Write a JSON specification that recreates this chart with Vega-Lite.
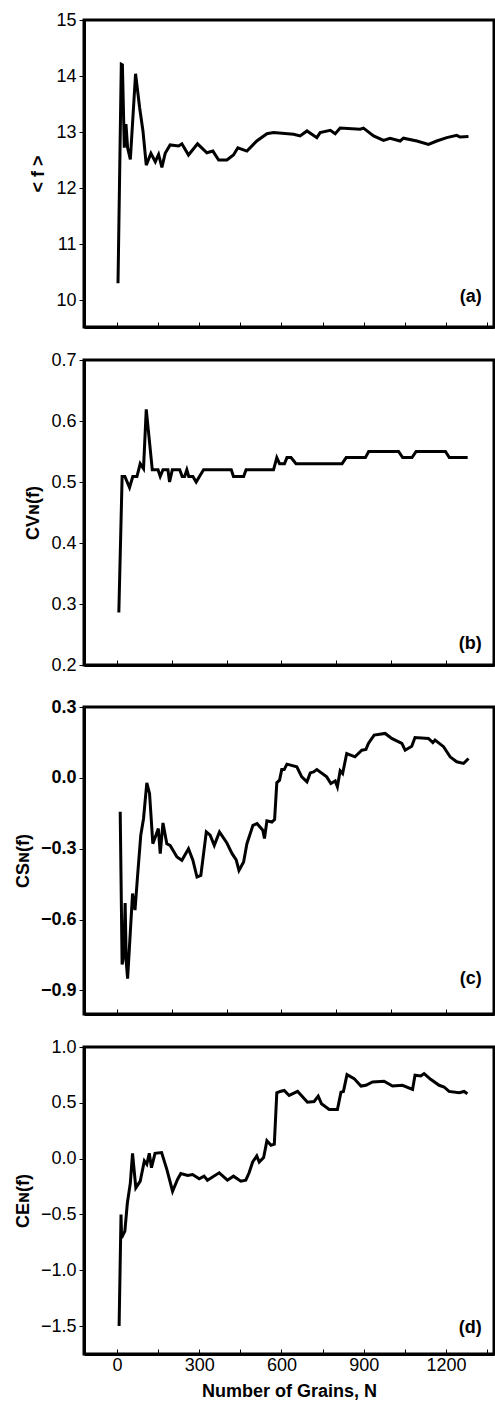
{
  "$schema": "https://vega.github.io/schema/vega-lite/v6.json",
  "padding": {"left": 12, "top": 9, "right": 2, "bottom": 0},
  "spacing": 20,
  "datasets": {
    "a": [
      {"N":4,"v":10.3},{"N":16,"v":14.21},{"N":20,"v":14.2},{"N":27,"v":12.72},{"N":33,"v":13.14},{"N":39,"v":12.72},{"N":49,"v":12.51},{"N":68,"v":14.04},{"N":83,"v":13.43},{"N":95,"v":13.02},{"N":107,"v":12.41},{"N":124,"v":12.62},{"N":140,"v":12.47},{"N":152,"v":12.6},{"N":164,"v":12.37},{"N":176,"v":12.62},{"N":194,"v":12.77},{"N":225,"v":12.75},{"N":237,"v":12.79},{"N":261,"v":12.59},{"N":294,"v":12.79},{"N":328,"v":12.63},{"N":350,"v":12.66},{"N":371,"v":12.5},{"N":401,"v":12.5},{"N":425,"v":12.59},{"N":441,"v":12.72},{"N":474,"v":12.66},{"N":510,"v":12.84},{"N":547,"v":12.97},{"N":571,"v":12.99},{"N":644,"v":12.96},{"N":668,"v":12.93},{"N":693,"v":13.02},{"N":729,"v":12.9},{"N":741,"v":12.99},{"N":778,"v":13.03},{"N":796,"v":12.97},{"N":814,"v":13.07},{"N":887,"v":13.05},{"N":899,"v":13.07},{"N":936,"v":12.93},{"N":972,"v":12.85},{"N":996,"v":12.89},{"N":1033,"v":12.84},{"N":1045,"v":12.89},{"N":1094,"v":12.84},{"N":1136,"v":12.78},{"N":1166,"v":12.84},{"N":1203,"v":12.9},{"N":1239,"v":12.94},{"N":1251,"v":12.91},{"N":1282,"v":12.92}
    ],
    "b": [
      {"N":7,"v":0.286},{"N":19,"v":0.509},{"N":29,"v":0.509},{"N":46,"v":0.491},{"N":58,"v":0.509},{"N":73,"v":0.509},{"N":85,"v":0.53},{"N":97,"v":0.522},{"N":107,"v":0.619},{"N":129,"v":0.52},{"N":150,"v":0.52},{"N":158,"v":0.509},{"N":168,"v":0.52},{"N":186,"v":0.52},{"N":192,"v":0.5},{"N":202,"v":0.52},{"N":229,"v":0.52},{"N":238,"v":0.509},{"N":247,"v":0.509},{"N":255,"v":0.52},{"N":262,"v":0.509},{"N":277,"v":0.509},{"N":289,"v":0.5},{"N":301,"v":0.509},{"N":316,"v":0.52},{"N":417,"v":0.52},{"N":425,"v":0.509},{"N":462,"v":0.509},{"N":471,"v":0.52},{"N":571,"v":0.52},{"N":583,"v":0.54},{"N":593,"v":0.53},{"N":611,"v":0.53},{"N":620,"v":0.54},{"N":635,"v":0.54},{"N":653,"v":0.53},{"N":821,"v":0.53},{"N":836,"v":0.54},{"N":906,"v":0.54},{"N":918,"v":0.55},{"N":1027,"v":0.55},{"N":1042,"v":0.54},{"N":1076,"v":0.54},{"N":1091,"v":0.55},{"N":1198,"v":0.55},{"N":1212,"v":0.54},{"N":1279,"v":0.54}
    ],
    "c": [
      {"N":12,"v":-0.144},{"N":19,"v":-0.79},{"N":25,"v":-0.75},{"N":30,"v":-0.53},{"N":34,"v":-0.78},{"N":39,"v":-0.85},{"N":57,"v":-0.49},{"N":66,"v":-0.56},{"N":75,"v":-0.42},{"N":87,"v":-0.243},{"N":97,"v":-0.173},{"N":109,"v":-0.021},{"N":119,"v":-0.066},{"N":131,"v":-0.279},{"N":151,"v":-0.215},{"N":158,"v":-0.321},{"N":168,"v":-0.191},{"N":182,"v":-0.279},{"N":194,"v":-0.286},{"N":219,"v":-0.335},{"N":237,"v":-0.349},{"N":261,"v":-0.3},{"N":277,"v":-0.349},{"N":292,"v":-0.42},{"N":306,"v":-0.413},{"N":326,"v":-0.229},{"N":340,"v":-0.243},{"N":355,"v":-0.286},{"N":374,"v":-0.229},{"N":401,"v":-0.276},{"N":420,"v":-0.321},{"N":435,"v":-0.347},{"N":445,"v":-0.392},{"N":462,"v":-0.356},{"N":474,"v":-0.279},{"N":496,"v":-0.201},{"N":511,"v":-0.194},{"N":532,"v":-0.222},{"N":538,"v":-0.257},{"N":547,"v":-0.182},{"N":565,"v":-0.187},{"N":575,"v":-0.177},{"N":583,"v":-0.021},{"N":593,"v":-0.01},{"N":601,"v":0.035},{"N":610,"v":0.035},{"N":620,"v":0.058},{"N":656,"v":0.047},{"N":674,"v":0.004},{"N":693,"v":-0.017},{"N":705,"v":0.021},{"N":717,"v":0.025},{"N":729,"v":0.035},{"N":765,"v":0.004},{"N":780,"v":-0.024},{"N":796,"v":-0.013},{"N":804,"v":-0.038},{"N":814,"v":0.03},{"N":823,"v":0.018},{"N":838,"v":0.103},{"N":868,"v":0.089},{"N":893,"v":0.117},{"N":908,"v":0.12},{"N":917,"v":0.146},{"N":938,"v":0.181},{"N":978,"v":0.188},{"N":1002,"v":0.167},{"N":1039,"v":0.146},{"N":1051,"v":0.117},{"N":1075,"v":0.134},{"N":1087,"v":0.171},{"N":1136,"v":0.167},{"N":1152,"v":0.149},{"N":1160,"v":0.16},{"N":1191,"v":0.132},{"N":1215,"v":0.089},{"N":1239,"v":0.068},{"N":1264,"v":0.061},{"N":1282,"v":0.082}
    ],
    "d": [
      {"N":8,"v":-1.5},{"N":15,"v":-0.5},{"N":17,"v":-0.71},{"N":29,"v":-0.65},{"N":38,"v":-0.4},{"N":49,"v":-0.217},{"N":57,"v":0.048},{"N":69,"v":-0.262},{"N":85,"v":-0.202},{"N":100,"v":-0.021},{"N":109,"v":-0.051},{"N":118,"v":0.048},{"N":126,"v":-0.081},{"N":139,"v":0.048},{"N":163,"v":0.054},{"N":182,"v":-0.096},{"N":203,"v":-0.292},{"N":221,"v":-0.187},{"N":233,"v":-0.133},{"N":258,"v":-0.151},{"N":276,"v":-0.142},{"N":300,"v":-0.181},{"N":318,"v":-0.157},{"N":330,"v":-0.193},{"N":373,"v":-0.127},{"N":403,"v":-0.193},{"N":425,"v":-0.157},{"N":452,"v":-0.202},{"N":470,"v":-0.193},{"N":482,"v":-0.127},{"N":495,"v":-0.03},{"N":510,"v":0.024},{"N":519,"v":-0.03},{"N":535,"v":0.009},{"N":547,"v":0.16},{"N":562,"v":0.12},{"N":574,"v":0.13},{"N":583,"v":0.59},{"N":595,"v":0.602},{"N":610,"v":0.611},{"N":628,"v":0.566},{"N":659,"v":0.602},{"N":695,"v":0.506},{"N":719,"v":0.512},{"N":734,"v":0.56},{"N":746,"v":0.491},{"N":774,"v":0.44},{"N":804,"v":0.44},{"N":817,"v":0.596},{"N":826,"v":0.602},{"N":839,"v":0.753},{"N":865,"v":0.717},{"N":890,"v":0.65},{"N":908,"v":0.657},{"N":932,"v":0.687},{"N":974,"v":0.693},{"N":1005,"v":0.65},{"N":1041,"v":0.657},{"N":1078,"v":0.62},{"N":1087,"v":0.747},{"N":1108,"v":0.741},{"N":1120,"v":0.762},{"N":1144,"v":0.711},{"N":1175,"v":0.657},{"N":1193,"v":0.642},{"N":1211,"v":0.602},{"N":1248,"v":0.59},{"N":1266,"v":0.602},{"N":1278,"v":0.581}
    ]
  },
  "vconcat": [
    {
      "width": 410, "height": 307,
      "layer": [
        {
          "data": {"name": "a"},
          "mark": {"type": "line", "color": "black", "strokeWidth": 3},
          "encoding": {
            "x": {"field": "N", "type": "quantitative", "scale": {"domain": [-120, 1375], "nice": false},
                  "axis": {"values": [0,150,300,450,600,750,900,1050,1200,1350], "labels": false, "title": null, "tickSize": -5, "domainWidth": 3, "minExtent": 0, "maxExtent": 0}},
            "y": {"field": "v", "type": "quantitative", "scale": {"domain": [9.52, 15], "nice": false, "zero": false},
                  "axis": {"values": [10,10.5,11,11.5,12,12.5,13,13.5,14,14.5,15], "format": "d", "labelExpr": "datum.value % 1 === 0 ? datum.label : ''", "title": "< f >"}}
          }
        },
        {"data": {"values": [{"tag": "(a)"}]},
         "mark": {"type": "text", "align": "right", "fontWeight": "bold", "fontSize": 18},
         "encoding": {"text": {"field": "tag"}, "x": {"datum": 1330, "type": "quantitative"}, "y": {"datum": 10.05, "type": "quantitative"}}}
      ]
    },
    {
      "width": 410, "height": 305,
      "layer": [
        {
          "data": {"name": "b"},
          "mark": {"type": "line", "color": "black", "strokeWidth": 3},
          "encoding": {
            "x": {"field": "N", "type": "quantitative", "scale": {"domain": [-120, 1375], "nice": false},
                  "axis": {"values": [0,100,200,300,400,500,600,700,800,900,1000,1100,1200,1300], "labels": false, "title": null, "tickSize": -5, "domainWidth": 3, "minExtent": 0, "maxExtent": 0}},
            "y": {"field": "v", "type": "quantitative", "scale": {"domain": [0.2, 0.7], "nice": false, "zero": false},
                  "axis": {"values": [0.2,0.25,0.3,0.35,0.4,0.45,0.5,0.55,0.6,0.65,0.7], "format": ".1f", "labelExpr": "abs(datum.value*10 - round(datum.value*10)) < 0.001 ? datum.label : ''", "title": "CVɴ(f)"}}
          }
        },
        {"data": {"values": [{"tag": "(b)"}]},
         "mark": {"type": "text", "align": "right", "fontWeight": "bold", "fontSize": 18},
         "encoding": {"text": {"field": "tag"}, "x": {"datum": 1330, "type": "quantitative"}, "y": {"datum": 0.235, "type": "quantitative"}}}
      ]
    },
    {
      "width": 410, "height": 307,
      "layer": [
        {
          "data": {"name": "c"},
          "mark": {"type": "line", "color": "black", "strokeWidth": 3},
          "encoding": {
            "x": {"field": "N", "type": "quantitative", "scale": {"domain": [-120, 1375], "nice": false},
                  "axis": {"values": [0,100,200,300,400,500,600,700,800,900,1000,1100,1200,1300], "labels": false, "title": null, "tickSize": -5, "domainWidth": 3, "minExtent": 0, "maxExtent": 0}},
            "y": {"field": "v", "type": "quantitative", "scale": {"domain": [-1.0, 0.3], "nice": false, "zero": false},
                  "axis": {"values": [-0.9,-0.75,-0.6,-0.45,-0.3,-0.15,0,0.15,0.3], "format": ".1f", "labelFontWeight": "bold", "labelExpr": "abs(datum.value/0.3 - round(datum.value/0.3)) < 0.001 ? datum.label : ''", "title": "CSɴ(f)"}}
          }
        },
        {"data": {"values": [{"tag": "(c)"}]},
         "mark": {"type": "text", "align": "right", "fontWeight": "bold", "fontSize": 18},
         "encoding": {"text": {"field": "tag"}, "x": {"datum": 1330, "type": "quantitative"}, "y": {"datum": -0.85, "type": "quantitative"}}}
      ]
    },
    {
      "width": 410, "height": 307,
      "layer": [
        {
          "data": {"name": "d"},
          "mark": {"type": "line", "color": "black", "strokeWidth": 3},
          "encoding": {
            "x": {"field": "N", "type": "quantitative", "scale": {"domain": [-120, 1375], "nice": false},
                  "axis": {"values": [0,150,300,450,600,750,900,1050,1200,1350], "format": "d", "labelExpr": "datum.value % 300 === 0 ? datum.label : ''", "title": "Number of Grains, N", "tickSize": -5, "domainWidth": 3, "labelPadding": 7, "titlePadding": 8}},
            "y": {"field": "v", "type": "quantitative", "scale": {"domain": [-1.75, 1.0], "nice": false, "zero": false},
                  "axis": {"values": [-1.5,-1.25,-1,-0.75,-0.5,-0.25,0,0.25,0.5,0.75,1], "format": ".1f", "labelExpr": "abs(datum.value*2 - round(datum.value*2)) < 0.001 ? datum.label : ''", "title": "CEɴ(f)"}}
          }
        },
        {"data": {"values": [{"tag": "(d)"}]},
         "mark": {"type": "text", "align": "right", "fontWeight": "bold", "fontSize": 18},
         "encoding": {"text": {"field": "tag"}, "x": {"datum": 1330, "type": "quantitative"}, "y": {"datum": -1.52, "type": "quantitative"}}}
      ]
    }
  ],
  "config": {
    "font": "Liberation Sans",
    "view": {"stroke": "black", "strokeWidth": 3},
    "text": {"font": "Liberation Sans", "color": "black"},
    "axis": {
      "grid": false,
      "domainColor": "black",
      "tickColor": "black",
      "labelColor": "black",
      "titleColor": "black",
      "labelFontSize": 18,
      "labelFont": "Liberation Sans",
      "titleFont": "Liberation Sans",
      "titleFontSize": 18,
      "titleFontWeight": "bold"
    },
    "axisY": {"domainWidth": 3, "tickSize": 5, "labelPadding": 3, "titlePadding": 8}
  }
}
